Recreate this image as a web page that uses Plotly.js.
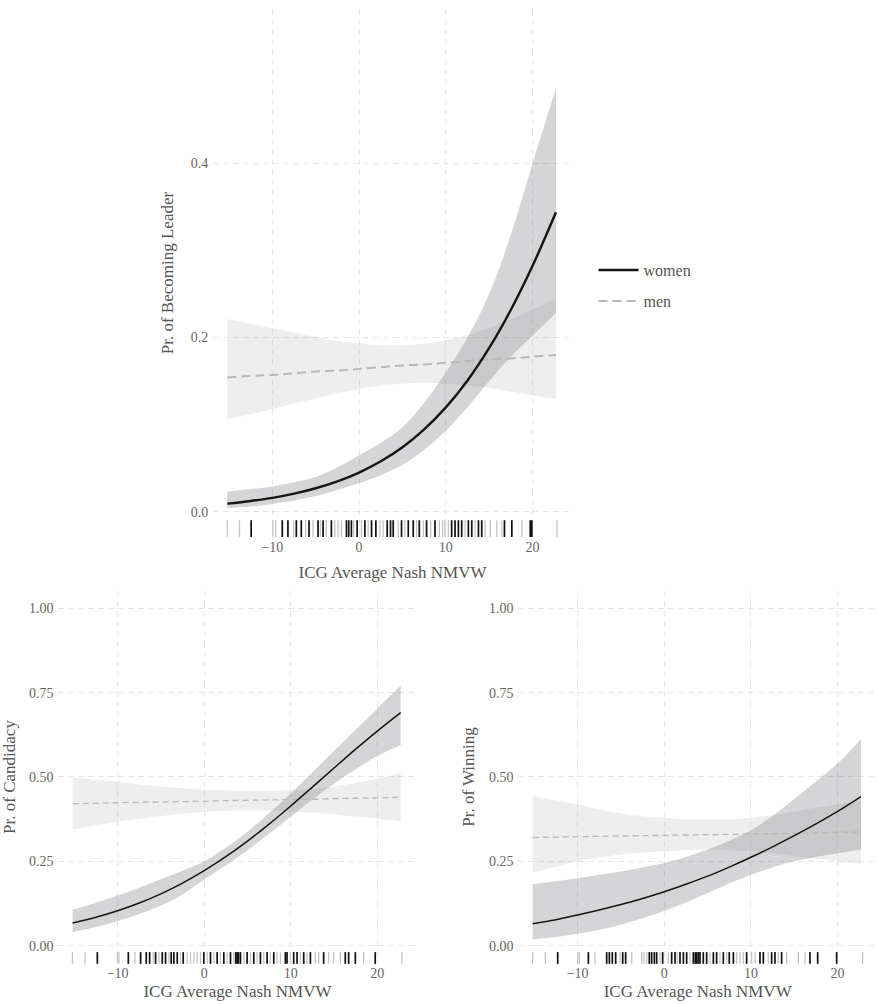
<!DOCTYPE html>
<html>
<head>
<meta charset="utf-8">
<script src="https://cdn.plot.ly/plotly-3.0.1.min.js"></script>
<style>html,body{margin:0;padding:0;background:#fff}#plot{width:878px;height:1004px}</style>
</head>
<body>
<div id="plot"></div>
<script>
// x grid at which the fitted curves were read
const xs = [-15.2, -12.5, -10, -7.5, -5, -2.5, 0, 2.5, 5, 7.5, 10, 12.5, 15, 17.5, 20, 22.7];

// Panel 1: Pr. of Becoming Leader
const leaderWomenFit = [0.0093, 0.0124, 0.0160, 0.0208, 0.0270, 0.0349, 0.0450, 0.0579, 0.0741, 0.0946, 0.1198, 0.1507, 0.1880, 0.2318, 0.2823, 0.3437];
const leaderWomenLo  = [0.004, 0.006, 0.009, 0.013, 0.018, 0.025, 0.033, 0.042, 0.054, 0.071, 0.093, 0.120, 0.150, 0.178, 0.202, 0.228];
const leaderWomenHi  = [0.023, 0.026, 0.029, 0.034, 0.040, 0.051, 0.065, 0.079, 0.097, 0.125, 0.160, 0.200, 0.250, 0.318, 0.400, 0.486];
const leaderMenFit   = [0.154, 0.156, 0.157, 0.159, 0.161, 0.162, 0.164, 0.166, 0.168, 0.169, 0.171, 0.173, 0.175, 0.176, 0.178, 0.180];
const leaderMenLo    = [0.106, 0.112, 0.118, 0.124, 0.130, 0.136, 0.141, 0.145, 0.147, 0.148, 0.147, 0.145, 0.142, 0.138, 0.134, 0.129];
const leaderMenHi    = [0.221, 0.216, 0.211, 0.206, 0.201, 0.196, 0.193, 0.191, 0.191, 0.193, 0.197, 0.203, 0.211, 0.221, 0.232, 0.245];

// Panel 2: Pr. of Candidacy
const candWomenFit = [0.0672, 0.0842, 0.1035, 0.1265, 0.1537, 0.1855, 0.2222, 0.2637, 0.3100, 0.3603, 0.4141, 0.4698, 0.5265, 0.5825, 0.6362, 0.6908];
const candWomenLo  = [0.040, 0.055, 0.073, 0.094, 0.119, 0.152, 0.196, 0.238, 0.283, 0.332, 0.382, 0.433, 0.480, 0.523, 0.562, 0.595];
const candWomenHi  = [0.107, 0.127, 0.149, 0.172, 0.197, 0.222, 0.250, 0.290, 0.338, 0.393, 0.451, 0.514, 0.577, 0.640, 0.703, 0.771];
const candMenFit   = [0.421, 0.422, 0.424, 0.425, 0.426, 0.427, 0.428, 0.430, 0.431, 0.432, 0.433, 0.434, 0.436, 0.437, 0.438, 0.440];
const candMenLo    = [0.344, 0.356, 0.367, 0.376, 0.384, 0.391, 0.396, 0.400, 0.401, 0.400, 0.398, 0.394, 0.389, 0.382, 0.376, 0.369];
const candMenHi    = [0.499, 0.492, 0.486, 0.478, 0.472, 0.467, 0.463, 0.461, 0.460, 0.460, 0.461, 0.465, 0.472, 0.482, 0.495, 0.512];

// Panel 3: Pr. of Winning
const winWomenFit = [0.065, 0.077, 0.091, 0.106, 0.122, 0.140, 0.160, 0.182, 0.206, 0.233, 0.262, 0.293, 0.326, 0.361, 0.398, 0.442];
const winWomenLo  = [0.019, 0.026, 0.035, 0.047, 0.062, 0.081, 0.103, 0.128, 0.156, 0.184, 0.210, 0.232, 0.250, 0.263, 0.274, 0.285];
const winWomenHi  = [0.183, 0.191, 0.200, 0.210, 0.220, 0.232, 0.245, 0.263, 0.285, 0.311, 0.342, 0.385, 0.435, 0.487, 0.540, 0.613];
const winMenFit   = [0.321, 0.322, 0.323, 0.324, 0.325, 0.326, 0.327, 0.328, 0.329, 0.330, 0.331, 0.332, 0.333, 0.334, 0.336, 0.337];
const winMenLo    = [0.217, 0.234, 0.250, 0.261, 0.270, 0.276, 0.280, 0.283, 0.284, 0.283, 0.280, 0.273, 0.265, 0.258, 0.250, 0.242];
const winMenHi    = [0.444, 0.431, 0.419, 0.404, 0.392, 0.384, 0.379, 0.375, 0.374, 0.375, 0.379, 0.387, 0.398, 0.409, 0.419, 0.429];

// Rug observations (ICG Average Nash NMVW)
const leaderRugWomen = [-12.45, -8.86, -8.21, -7.24, -6.67, -5.78, -4.74, -4.16, -3.2, -1.46, -1.2, -0.89, -0.23, 0.66, 1.43, 1.93, 3.24, 3.62, 3.93, 4.89, 5.67, 6.24, 6.94, 7.78, 8.75, 10.67, 11.06, 11.45, 11.83, 12.6, 12.99, 13.76, 14.14, 16.76, 17.61, 19.73, 19.92];
const leaderRugMen = [-15.2, -13.8, -9.94, -9.63, -7.55, -6.17, -5.32, -4.47, -3.78, -2.81, -2.43, -2.04, -0.62, 0.27, 1.04, 2.39, 2.77, 4.51, 5.28, 6.63, 7.4, 8.25, 9.25, 9.63, 9.9, 10.29, 12.22, 13.37, 14.53, 15.11, 15.88, 16.45, 18.77, 22.81];
const candRugWomen = [-12.34, -8.76, -7.34, -6.69, -6.3, -5.61, -4.84, -4.46, -3.81, -3.5, -3.11, -2.42, -0.04, 0.73, 1.5, 2.27, 3.04, 3.65, 3.81, 3.96, 4.19, 4.96, 5.73, 6.5, 7.27, 8.04, 9.38, 9.57, 10.34, 10.73, 11.5, 12.27, 13.8, 16.3, 16.69, 17.46, 19.76];
const candRugMen = [-15.22, -13.76, -10.03, -9.84, -8.0, -5.88, -5.23, -4.07, -2.73, -1.96, -1.58, -1.19, -0.81, -0.42, 0.35, 1.12, 1.88, 2.65, 3.42, 4.58, 5.35, 6.11, 6.88, 7.65, 8.42, 8.81, 9.96, 11.11, 11.88, 12.84, 13.23, 14.38, 14.96, 15.73, 18.42, 22.84];
const winRugWomen = [-12.3, -8.76, -6.65, -6.34, -6.0, -5.61, -4.8, -4.46, -1.73, -1.46, -1.15, -0.88, -0.19, 0.85, 1.24, 1.81, 2.2, 2.58, 3.35, 3.58, 3.74, 3.93, 4.12, 4.5, 4.89, 5.66, 6.04, 6.81, 7.5, 7.97, 9.5, 11.04, 11.43, 12.39, 12.77, 13.54, 16.81, 17.7, 19.89];
const winRugMen = [-15.19, -13.73, -10.0, -9.8, -8.0, -5.11, -3.76, -2.61, -2.34, -2.03, -0.5, 0.47, 1.5, 2.97, 5.27, 6.43, 7.2, 8.35, 8.74, 9.12, 10.08, 10.47, 12.0, 13.16, 14.12, 15.47, 16.24, 22.89];

const xTickVals = [-10, 0, 10, 20];
const xTitle = 'ICG Average Nash NMVW';
const yTitles = ['Pr. of Becoming Leader', 'Pr. of Candidacy', 'Pr. of Winning'];

const FONT = 'Liberation Serif';
const WOMEN_BAND = 'rgba(110,110,118,0.29)';
const MEN_BAND = 'rgba(200,200,200,0.30)';

function panelTraces(sfx, wFit, wLo, wHi, mFit, mLo, mHi, rugW, rugM, big, rugY, rugSize) {
  const lw = big ? 2.4 : 1.5;
  const mw = big ? 2.0 : 1.3;
  const dash = big ? '9px,5px' : '6px,4px';
  const common = {xaxis: 'x' + sfx, yaxis: 'y' + sfx, hoverinfo: 'skip'};
  const noLine = {width: 0, shape: 'spline', color: 'rgba(0,0,0,0)'};
  return [
    Object.assign({type: 'scatter', mode: 'lines', x: xs, y: mLo, line: noLine, showlegend: false}, common),
    Object.assign({type: 'scatter', mode: 'lines', x: xs, y: mHi, fill: 'tonexty', fillcolor: MEN_BAND, line: noLine, showlegend: false}, common),
    Object.assign({type: 'scatter', mode: 'lines', x: xs, y: wLo, line: noLine, showlegend: false}, common),
    Object.assign({type: 'scatter', mode: 'lines', x: xs, y: wHi, fill: 'tonexty', fillcolor: WOMEN_BAND, line: noLine, showlegend: false}, common),
    Object.assign({type: 'scatter', mode: 'lines', x: xs, y: mFit, name: 'men', line: {color: '#b8b8b8', width: mw, dash: dash, shape: 'spline'}, showlegend: big, legend: 'legend2'}, common),
    Object.assign({type: 'scatter', mode: 'lines', x: xs, y: wFit, name: 'women', line: {color: '#151515', width: lw, shape: 'spline'}, showlegend: big, legend: 'legend'}, common),
    Object.assign({type: 'scatter', mode: 'markers', x: rugM, y: rugM.map(() => rugY), cliponaxis: false, marker: {symbol: 'line-ns', size: rugSize, color: '#c4c4c4', line: {color: '#c4c4c4', width: 1.3}}, showlegend: false}, common),
    Object.assign({type: 'scatter', mode: 'markers', x: rugW, y: rugW.map(() => rugY), cliponaxis: false, marker: {symbol: 'line-ns', size: rugSize, color: '#111111', line: {color: '#111111', width: 1.7}}, showlegend: false}, common)
  ];
}

const data = [].concat(
  panelTraces('', leaderWomenFit, leaderWomenLo, leaderWomenHi, leaderMenFit, leaderMenLo, leaderMenHi, leaderRugWomen, leaderRugMen, true, -0.0193, 12),
  panelTraces('2', candWomenFit, candWomenLo, candWomenHi, candMenFit, candMenLo, candMenHi, candRugWomen, candRugMen, false, -0.0365, 8.4),
  panelTraces('3', winWomenFit, winWomenLo, winWomenHi, winMenFit, winMenLo, winMenHi, winRugWomen, winRugMen, false, -0.0365, 8.4)
);

function xAxis(domain, anchor, standoff) {
  return {
    domain: domain, anchor: anchor, range: [-16.85, 24.55],
    tickvals: xTickVals, ticks: '',
    showgrid: true, gridcolor: '#e6e6e6', gridwidth: 1, griddash: '6px,4px',
    zeroline: false, showline: false,
    tickfont: {family: FONT, size: 14, color: '#666'},
    title: {text: xTitle, font: {family: FONT, size: 17, color: '#555'}, standoff: standoff}
  };
}
function yAxis(domain, anchor, range, vals, fmt, title, standoff) {
  return {
    domain: domain, anchor: anchor, range: range,
    tickvals: vals, tickformat: fmt, ticks: 'outside', ticklen: 1, tickcolor: 'rgba(0,0,0,0)',
    showgrid: true, gridcolor: '#e6e6e6', gridwidth: 1, griddash: '6px,4px',
    zeroline: false, showline: false,
    tickfont: {family: FONT, size: 14, color: '#666'},
    title: {text: title, font: {family: FONT, size: 17, color: '#555'}, standoff: standoff}
  };
}

const layout = {
  width: 878, height: 1004,
  margin: {l: 0, r: 0, t: 0, b: 0},
  paper_bgcolor: '#fff', plot_bgcolor: '#fff',
  font: {family: FONT, color: '#555'},
  xaxis: xAxis([0.2426, 0.6515], 'y', 12),
  yaxis: yAxis([0.4651, 0.9910], 'x', [-0.029, 0.577], [0, 0.2, 0.4], '.1f', yTitles[0], 12),
  xaxis2: xAxis([0.0664, 0.4746], 'y2', 5),
  yaxis2: yAxis([0.0413, 0.4109], 'x2', [-0.05, 1.05], [0, 0.25, 0.5, 0.75, 1], '.2f', yTitles[1], 10),
  xaxis3: xAxis([0.5903, 0.9989], 'y3', 5),
  yaxis3: yAxis([0.0413, 0.4109], 'x3', [-0.05, 1.05], [0, 0.25, 0.5, 0.75, 1], '.2f', yTitles[2], 10),
  legend: {x: 0.676, y: 0.731, xanchor: 'left', yanchor: 'middle', bgcolor: 'rgba(0,0,0,0)', font: {family: FONT, size: 16, color: '#555'}, itemwidth: 40},
  legend2: {x: 0.676, y: 0.700, xanchor: 'left', yanchor: 'middle', bgcolor: 'rgba(0,0,0,0)', font: {family: FONT, size: 16, color: '#555'}, itemwidth: 40},
  showlegend: true
};

Plotly.newPlot('plot', data, layout, {staticPlot: true, displayModeBar: false});
</script>
</body>
</html>
